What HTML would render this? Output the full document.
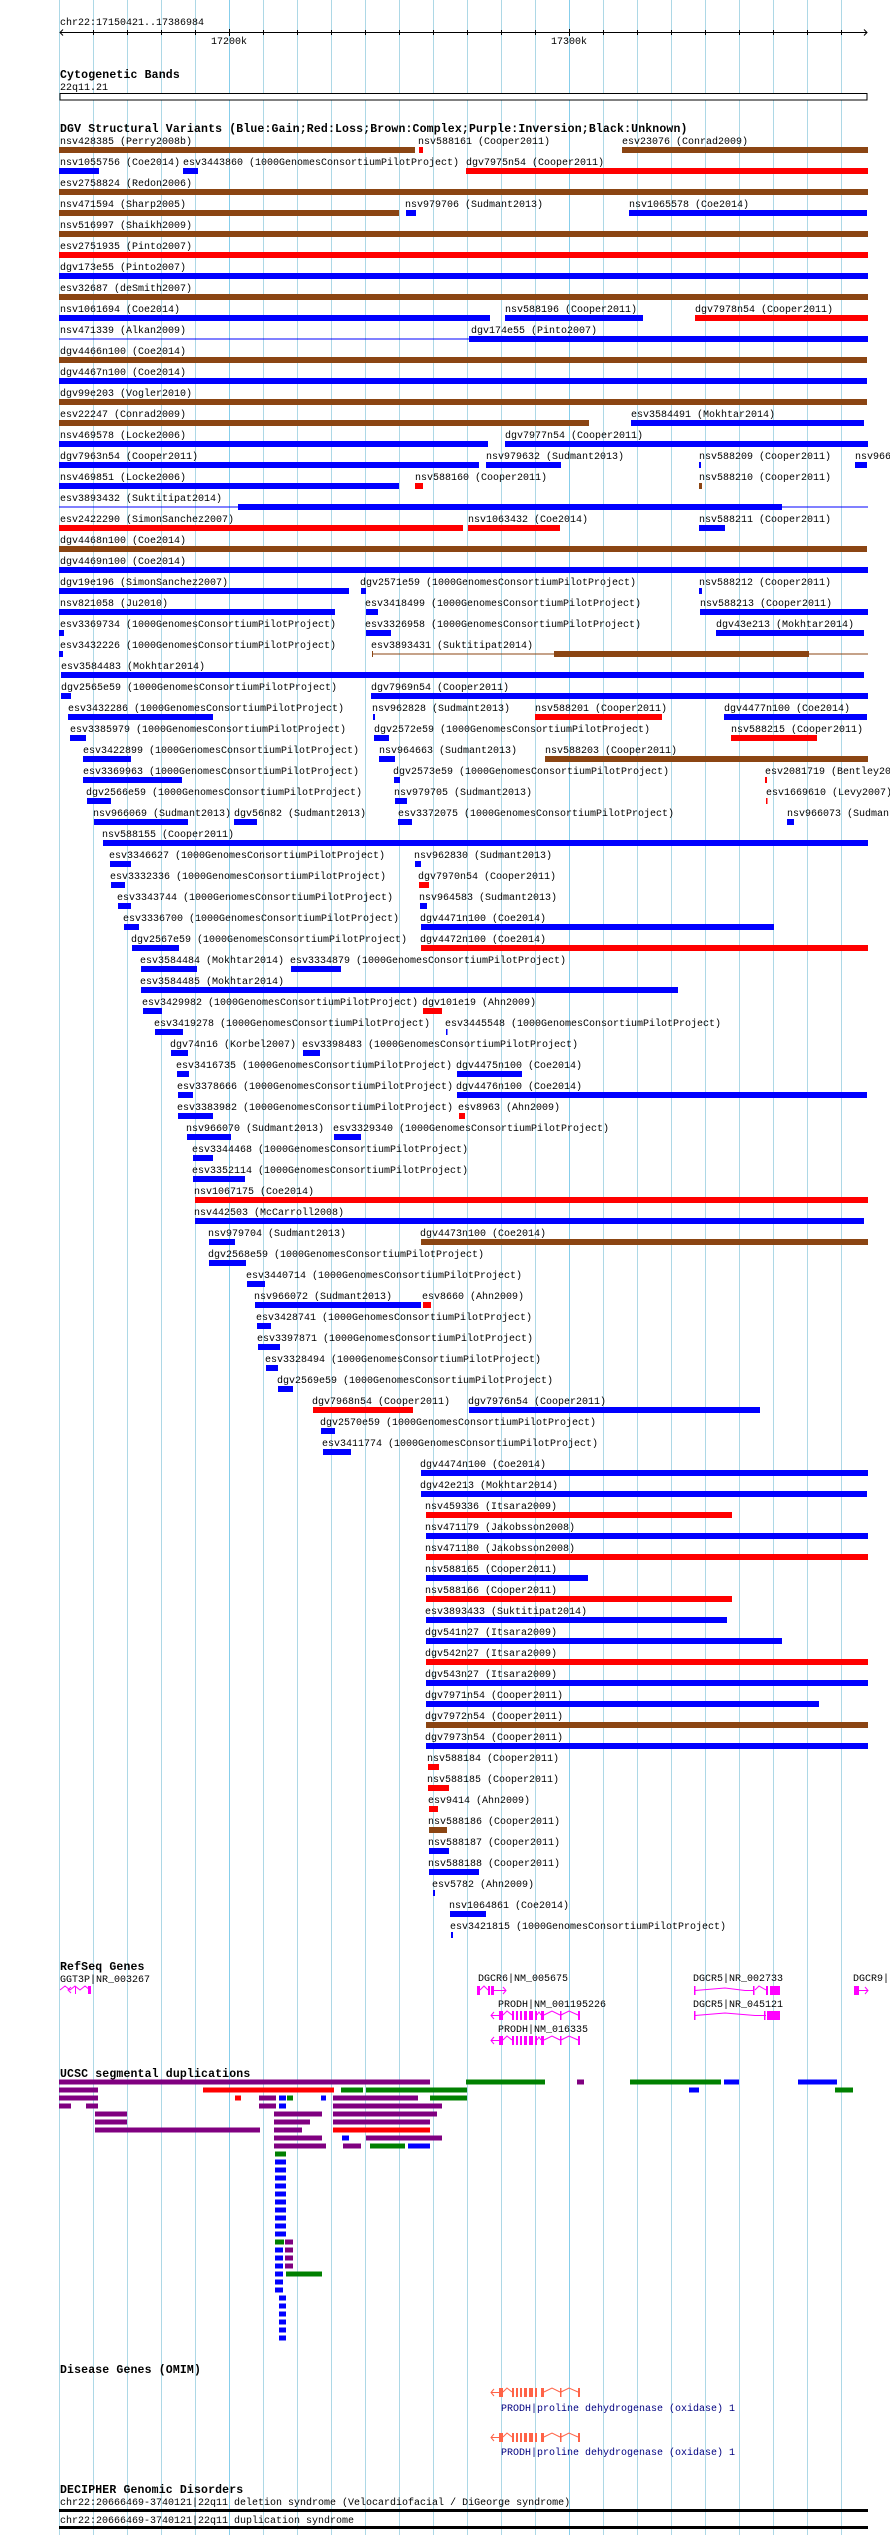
<!DOCTYPE html>
<html><head><meta charset="utf-8"><style>
html,body{margin:0;padding:0;background:#fff;width:890px;height:2535px;overflow:hidden}
svg{display:block}
text{font-family:"Liberation Mono",monospace;font-size:10px;fill:#000}
.t{font-weight:bold;font-size:11.5px;letter-spacing:0.15px}
.B{fill:#0000ff}.R{fill:#ff0000}.N{fill:#8b4513}.P{fill:#800080}.G{fill:#008000}
.om{fill:#000080}
</style></head><body>
<svg width="890" height="2535" viewBox="0 0 890 2535" xmlns="http://www.w3.org/2000/svg">
<g stroke="#add8e6" stroke-width="1">
<line x1="59.5" y1="0" x2="59.5" y2="2535"/><line x1="93.5" y1="0" x2="93.5" y2="2535"/><line x1="127.5" y1="0" x2="127.5" y2="2535"/><line x1="161.5" y1="0" x2="161.5" y2="2535"/><line x1="195.5" y1="0" x2="195.5" y2="2535"/><line x1="229.5" y1="0" x2="229.5" y2="2535" stroke="#87ceeb"/><line x1="263.5" y1="0" x2="263.5" y2="2535"/><line x1="297.5" y1="0" x2="297.5" y2="2535"/><line x1="331.5" y1="0" x2="331.5" y2="2535"/><line x1="365.5" y1="0" x2="365.5" y2="2535"/><line x1="399.5" y1="0" x2="399.5" y2="2535"/><line x1="433.5" y1="0" x2="433.5" y2="2535"/><line x1="467.5" y1="0" x2="467.5" y2="2535"/><line x1="501.5" y1="0" x2="501.5" y2="2535"/><line x1="535.5" y1="0" x2="535.5" y2="2535"/><line x1="569.5" y1="0" x2="569.5" y2="2535" stroke="#87ceeb"/><line x1="603.5" y1="0" x2="603.5" y2="2535"/><line x1="637.5" y1="0" x2="637.5" y2="2535"/><line x1="671.5" y1="0" x2="671.5" y2="2535"/><line x1="705.5" y1="0" x2="705.5" y2="2535"/><line x1="739.5" y1="0" x2="739.5" y2="2535"/><line x1="773.5" y1="0" x2="773.5" y2="2535"/><line x1="807.5" y1="0" x2="807.5" y2="2535"/><line x1="841.5" y1="0" x2="841.5" y2="2535"/>
</g>
<!-- ruler -->
<text x="60" y="25">chr22:17150421..17386984</text>
<g stroke="#000" stroke-width="1" fill="none">
<line x1="60" y1="32.5" x2="867" y2="32.5"/>
<polyline points="63,29.5 60,32.5 63,35.5"/><polyline points="864,29.5 867,32.5 864,35.5"/>
<line x1="93.5" y1="30" x2="93.5" y2="35"/><line x1="127.5" y1="30" x2="127.5" y2="35"/><line x1="161.5" y1="30" x2="161.5" y2="35"/><line x1="195.5" y1="30" x2="195.5" y2="35"/><line x1="229.5" y1="29" x2="229.5" y2="36"/><line x1="263.5" y1="30" x2="263.5" y2="35"/><line x1="297.5" y1="30" x2="297.5" y2="35"/><line x1="331.5" y1="30" x2="331.5" y2="35"/><line x1="365.5" y1="30" x2="365.5" y2="35"/><line x1="399.5" y1="30" x2="399.5" y2="35"/><line x1="433.5" y1="30" x2="433.5" y2="35"/><line x1="467.5" y1="30" x2="467.5" y2="35"/><line x1="501.5" y1="30" x2="501.5" y2="35"/><line x1="535.5" y1="30" x2="535.5" y2="35"/><line x1="569.5" y1="29" x2="569.5" y2="36"/><line x1="603.5" y1="30" x2="603.5" y2="35"/><line x1="637.5" y1="30" x2="637.5" y2="35"/><line x1="671.5" y1="30" x2="671.5" y2="35"/><line x1="705.5" y1="30" x2="705.5" y2="35"/><line x1="739.5" y1="30" x2="739.5" y2="35"/><line x1="773.5" y1="30" x2="773.5" y2="35"/><line x1="807.5" y1="30" x2="807.5" y2="35"/><line x1="841.5" y1="30" x2="841.5" y2="35"/>
</g>
<text x="211" y="44">17200k</text><text x="551" y="44">17300k</text>
<!-- cytoband -->
<text class="t" x="60" y="78">Cytogenetic Bands</text>
<text x="60" y="90">22q11.21</text>
<rect x="60" y="93.5" width="807" height="6.5" fill="#fff" stroke="#000" stroke-width="1"/>
<!-- DGV -->
<text class="t" x="60" y="132">DGV Structural Variants (Blue:Gain;Red:Loss;Brown:Complex;Purple:Inversion;Black:Unknown)</text>

<g transform="translate(0,0)"><text x="60" y="144">nsv428385 (Perry2008b)</text><rect class="N" x="59" y="147" width="356" height="6"/><text x="418" y="144">nsv588161 (Cooper2011)</text><rect class="R" x="419" y="147" width="4" height="6"/><text x="622" y="144">esv23076 (Conrad2009)</text><rect class="N" x="622" y="147" width="246" height="6"/></g>
<g transform="translate(0,21)"><text x="60" y="144">nsv1055756 (Coe2014)</text><rect class="B" x="59" y="147" width="40" height="6"/><text x="183" y="144">esv3443860 (1000GenomesConsortiumPilotProject)</text><rect class="B" x="183" y="147" width="15" height="6"/><text x="466" y="144">dgv7975n54 (Cooper2011)</text><rect class="R" x="466" y="147" width="402" height="6"/></g>
<g transform="translate(0,42)"><text x="60" y="144">esv2758824 (Redon2006)</text><rect class="N" x="59" y="147" width="809" height="6"/></g>
<g transform="translate(0,63)"><text x="60" y="144">nsv471594 (Sharp2005)</text><rect class="N" x="59" y="147" width="340" height="6"/><text x="405" y="144">nsv979706 (Sudmant2013)</text><rect class="B" x="406" y="147" width="10" height="6"/><text x="629" y="144">nsv1065578 (Coe2014)</text><rect class="B" x="629" y="147" width="238" height="6"/></g>
<g transform="translate(0,84)"><text x="60" y="144">nsv516997 (Shaikh2009)</text><rect class="N" x="59" y="147" width="809" height="6"/></g>
<g transform="translate(0,105)"><text x="60" y="144">esv2751935 (Pinto2007)</text><rect class="R" x="59" y="147" width="809" height="6"/></g>
<g transform="translate(0,126)"><text x="60" y="144">dgv173e55 (Pinto2007)</text><rect class="B" x="59" y="147" width="809" height="6"/></g>
<g transform="translate(0,147)"><text x="60" y="144">esv32687 (deSmith2007)</text><rect class="N" x="59" y="147" width="809" height="6"/></g>
<g transform="translate(0,168)"><text x="60" y="144">nsv1061694 (Coe2014)</text><rect class="B" x="59" y="147" width="431" height="6"/><text x="505" y="144">nsv588196 (Cooper2011)</text><rect class="B" x="505" y="147" width="138" height="6"/><text x="695" y="144">dgv7978n54 (Cooper2011)</text><rect class="R" x="695" y="147" width="173" height="6"/></g>
<g transform="translate(0,189)"><text x="60" y="144">nsv471339 (Alkan2009)</text><rect class="B" x="59" y="149.5" width="410" height="1"/><text x="471" y="144">dgv174e55 (Pinto2007)</text><rect class="B" x="469" y="147" width="399" height="6"/></g>
<g transform="translate(0,210)"><text x="60" y="144">dgv4466n100 (Coe2014)</text><rect class="N" x="59" y="147" width="808" height="6"/></g>
<g transform="translate(0,231)"><text x="60" y="144">dgv4467n100 (Coe2014)</text><rect class="B" x="59" y="147" width="808" height="6"/></g>
<g transform="translate(0,252)"><text x="60" y="144">dgv99e203 (Vogler2010)</text><rect class="N" x="59" y="147" width="808" height="6"/></g>
<g transform="translate(0,273)"><text x="60" y="144">esv22247 (Conrad2009)</text><rect class="N" x="59" y="147" width="530" height="6"/><text x="631" y="144">esv3584491 (Mokhtar2014)</text><rect class="B" x="631" y="147" width="233" height="6"/></g>
<g transform="translate(0,294)"><text x="60" y="144">nsv469578 (Locke2006)</text><rect class="B" x="59" y="147" width="429" height="6"/><text x="505" y="144">dgv7977n54 (Cooper2011)</text><rect class="B" x="505" y="147" width="363" height="6"/></g>
<g transform="translate(0,315)"><text x="60" y="144">dgv7963n54 (Cooper2011)</text><rect class="B" x="59" y="147" width="420" height="6"/><text x="486" y="144">nsv979632 (Sudmant2013)</text><rect class="B" x="486" y="147" width="75" height="6"/><text x="699" y="144">nsv588209 (Cooper2011)</text><rect class="B" x="699" y="147" width="2" height="6"/><text x="855" y="144">nsv966071 (Sudmant2013)</text><rect class="B" x="855" y="147" width="12" height="6"/></g>
<g transform="translate(0,336)"><text x="60" y="144">nsv469851 (Locke2006)</text><rect class="B" x="59" y="147" width="340" height="6"/><text x="415" y="144">nsv588160 (Cooper2011)</text><rect class="R" x="415" y="147" width="8" height="6"/><text x="699" y="144">nsv588210 (Cooper2011)</text><rect class="N" x="699" y="147" width="3" height="6"/></g>
<g transform="translate(0,357)"><text x="60" y="144">esv3893432 (Suktitipat2014)</text><rect class="B" x="59" y="149.5" width="809" height="1"/><rect class="B" x="238" y="147" width="544" height="6"/></g>
<g transform="translate(0,378)"><text x="60" y="144">esv2422290 (SimonSanchez2007)</text><rect class="R" x="59" y="147" width="404" height="6"/><text x="468" y="144">nsv1063432 (Coe2014)</text><rect class="R" x="468" y="147" width="92" height="6"/><text x="699" y="144">nsv588211 (Cooper2011)</text><rect class="B" x="699" y="147" width="26" height="6"/></g>
<g transform="translate(0,399)"><text x="60" y="144">dgv4468n100 (Coe2014)</text><rect class="N" x="59" y="147" width="808" height="6"/></g>
<g transform="translate(0,420)"><text x="60" y="144">dgv4469n100 (Coe2014)</text><rect class="B" x="59" y="147" width="809" height="6"/></g>
<g transform="translate(0,441)"><text x="60" y="144">dgv19e196 (SimonSanchez2007)</text><rect class="B" x="59" y="147" width="290" height="6"/><text x="360" y="144">dgv2571e59 (1000GenomesConsortiumPilotProject)</text><rect class="B" x="361" y="147" width="5" height="6"/><text x="699" y="144">nsv588212 (Cooper2011)</text><rect class="B" x="699" y="147" width="3" height="6"/></g>
<g transform="translate(0,462)"><text x="60" y="144">nsv821058 (Ju2010)</text><rect class="B" x="59" y="147" width="276" height="6"/><text x="365" y="144">esv3418499 (1000GenomesConsortiumPilotProject)</text><rect class="B" x="366" y="147" width="12" height="6"/><text x="700" y="144">nsv588213 (Cooper2011)</text><rect class="B" x="700" y="147" width="168" height="6"/></g>
<g transform="translate(0,483)"><text x="60" y="144">esv3369734 (1000GenomesConsortiumPilotProject)</text><rect class="B" x="59" y="147" width="5" height="6"/><text x="365" y="144">esv3326958 (1000GenomesConsortiumPilotProject)</text><rect class="B" x="366" y="147" width="25" height="6"/><text x="716" y="144">dgv43e213 (Mokhtar2014)</text><rect class="B" x="716" y="147" width="148" height="6"/></g>
<g transform="translate(0,504)"><text x="60" y="144">esv3432226 (1000GenomesConsortiumPilotProject)</text><rect class="B" x="59" y="147" width="4" height="6"/><text x="371" y="144">esv3893431 (Suktitipat2014)</text><rect class="N" x="372" y="149.5" width="496" height="1"/><rect class="N" x="372" y="147" width="1" height="6"/><rect class="N" x="554" y="147" width="255" height="6"/></g>
<g transform="translate(0,525)"><text x="61" y="144">esv3584483 (Mokhtar2014)</text><rect class="B" x="61" y="147" width="803" height="6"/></g>
<g transform="translate(0,546)"><text x="61" y="144">dgv2565e59 (1000GenomesConsortiumPilotProject)</text><rect class="B" x="61" y="147" width="10" height="6"/><text x="371" y="144">dgv7969n54 (Cooper2011)</text><rect class="B" x="371" y="147" width="497" height="6"/></g>
<g transform="translate(0,567)"><text x="68" y="144">esv3432286 (1000GenomesConsortiumPilotProject)</text><rect class="B" x="68" y="147" width="145" height="6"/><text x="372" y="144">nsv962828 (Sudmant2013)</text><rect class="B" x="373" y="147" width="2" height="6"/><text x="535" y="144">nsv588201 (Cooper2011)</text><rect class="R" x="535" y="147" width="127" height="6"/><text x="724" y="144">dgv4477n100 (Coe2014)</text><rect class="B" x="724" y="147" width="143" height="6"/></g>
<g transform="translate(0,588)"><text x="70" y="144">esv3385979 (1000GenomesConsortiumPilotProject)</text><rect class="B" x="70" y="147" width="16" height="6"/><text x="374" y="144">dgv2572e59 (1000GenomesConsortiumPilotProject)</text><rect class="B" x="374" y="147" width="15" height="6"/><text x="731" y="144">nsv588215 (Cooper2011)</text><rect class="R" x="731" y="147" width="86" height="6"/></g>
<g transform="translate(0,609)"><text x="83" y="144">esv3422899 (1000GenomesConsortiumPilotProject)</text><rect class="B" x="83" y="147" width="48" height="6"/><text x="379" y="144">nsv964663 (Sudmant2013)</text><rect class="B" x="379" y="147" width="16" height="6"/><text x="545" y="144">nsv588203 (Cooper2011)</text><rect class="N" x="545" y="147" width="323" height="6"/></g>
<g transform="translate(0,630)"><text x="83" y="144">esv3369963 (1000GenomesConsortiumPilotProject)</text><rect class="B" x="83" y="147" width="99" height="6"/><text x="393" y="144">dgv2573e59 (1000GenomesConsortiumPilotProject)</text><rect class="B" x="394" y="147" width="6" height="6"/><text x="765" y="144">esv2081719 (Bentley2008)</text><rect class="R" x="765" y="147" width="2" height="6"/></g>
<g transform="translate(0,651)"><text x="86" y="144">dgv2566e59 (1000GenomesConsortiumPilotProject)</text><rect class="B" x="87" y="147" width="24" height="6"/><text x="394" y="144">nsv979705 (Sudmant2013)</text><rect class="B" x="395" y="147" width="12" height="6"/><text x="766" y="144">esv1669610 (Levy2007)</text><rect class="R" x="766" y="147" width="1.5" height="6"/></g>
<g transform="translate(0,672)"><text x="93" y="144">nsv966069 (Sudmant2013)</text><rect class="B" x="94" y="147" width="94" height="6"/><text x="234" y="144">dgv56n82 (Sudmant2013)</text><rect class="B" x="234" y="147" width="23" height="6"/><text x="398" y="144">esv3372075 (1000GenomesConsortiumPilotProject)</text><rect class="B" x="398" y="147" width="14" height="6"/><text x="787" y="144">nsv966073 (Sudmant2013)</text><rect class="B" x="787" y="147" width="7" height="6"/></g>
<g transform="translate(0,693)"><text x="102" y="144">nsv588155 (Cooper2011)</text><rect class="B" x="103" y="147" width="765" height="6"/></g>
<g transform="translate(0,714)"><text x="109" y="144">esv3346627 (1000GenomesConsortiumPilotProject)</text><rect class="B" x="110" y="147" width="21" height="6"/><text x="414" y="144">nsv962830 (Sudmant2013)</text><rect class="B" x="415" y="147" width="6" height="6"/></g>
<g transform="translate(0,735)"><text x="110" y="144">esv3332336 (1000GenomesConsortiumPilotProject)</text><rect class="B" x="111" y="147" width="14" height="6"/><text x="418" y="144">dgv7970n54 (Cooper2011)</text><rect class="R" x="419" y="147" width="10" height="6"/></g>
<g transform="translate(0,756)"><text x="117" y="144">esv3343744 (1000GenomesConsortiumPilotProject)</text><rect class="B" x="118" y="147" width="13" height="6"/><text x="419" y="144">nsv964583 (Sudmant2013)</text><rect class="B" x="420" y="147" width="7" height="6"/></g>
<g transform="translate(0,777)"><text x="123" y="144">esv3336700 (1000GenomesConsortiumPilotProject)</text><rect class="B" x="124" y="147" width="15" height="6"/><text x="420" y="144">dgv4471n100 (Coe2014)</text><rect class="B" x="421" y="147" width="353" height="6"/></g>
<g transform="translate(0,798)"><text x="131" y="144">dgv2567e59 (1000GenomesConsortiumPilotProject)</text><rect class="B" x="132" y="147" width="47" height="6"/><text x="420" y="144">dgv4472n100 (Coe2014)</text><rect class="R" x="421" y="147" width="447" height="6"/></g>
<g transform="translate(0,819)"><text x="140" y="144">esv3584484 (Mokhtar2014)</text><rect class="B" x="141" y="147" width="56" height="6"/><text x="290" y="144">esv3334879 (1000GenomesConsortiumPilotProject)</text><rect class="B" x="291" y="147" width="50" height="6"/></g>
<g transform="translate(0,840)"><text x="140" y="144">esv3584485 (Mokhtar2014)</text><rect class="B" x="141" y="147" width="537" height="6"/></g>
<g transform="translate(0,861)"><text x="142" y="144">esv3429982 (1000GenomesConsortiumPilotProject)</text><rect class="B" x="143" y="147" width="19" height="6"/><text x="422" y="144">dgv101e19 (Ahn2009)</text><rect class="R" x="423" y="147" width="19" height="6"/></g>
<g transform="translate(0,882)"><text x="154" y="144">esv3419278 (1000GenomesConsortiumPilotProject)</text><rect class="B" x="155" y="147" width="28" height="6"/><text x="445" y="144">esv3445548 (1000GenomesConsortiumPilotProject)</text><rect class="B" x="446" y="147" width="1.5" height="6"/></g>
<g transform="translate(0,903)"><text x="170" y="144">dgv74n16 (Korbel2007)</text><rect class="B" x="171" y="147" width="17" height="6"/><text x="302" y="144">esv3398483 (1000GenomesConsortiumPilotProject)</text><rect class="B" x="303" y="147" width="17" height="6"/></g>
<g transform="translate(0,924)"><text x="176" y="144">esv3416735 (1000GenomesConsortiumPilotProject)</text><rect class="B" x="177" y="147" width="12" height="6"/><text x="456" y="144">dgv4475n100 (Coe2014)</text><rect class="B" x="457" y="147" width="65" height="6"/></g>
<g transform="translate(0,945)"><text x="177" y="144">esv3378666 (1000GenomesConsortiumPilotProject)</text><rect class="B" x="178" y="147" width="15" height="6"/><text x="456" y="144">dgv4476n100 (Coe2014)</text><rect class="B" x="457" y="147" width="410" height="6"/></g>
<g transform="translate(0,966)"><text x="177" y="144">esv3383982 (1000GenomesConsortiumPilotProject)</text><rect class="B" x="178" y="147" width="35" height="6"/><text x="458" y="144">esv8963 (Ahn2009)</text><rect class="R" x="459" y="147" width="6" height="6"/></g>
<g transform="translate(0,987)"><text x="186" y="144">nsv966070 (Sudmant2013)</text><rect class="B" x="187" y="147" width="44" height="6"/><text x="333" y="144">esv3329340 (1000GenomesConsortiumPilotProject)</text><rect class="B" x="334" y="147" width="27" height="6"/></g>
<g transform="translate(0,1008)"><text x="192" y="144">esv3344468 (1000GenomesConsortiumPilotProject)</text><rect class="B" x="193" y="147" width="20" height="6"/></g>
<g transform="translate(0,1029)"><text x="192" y="144">esv3352114 (1000GenomesConsortiumPilotProject)</text><rect class="B" x="193" y="147" width="52" height="6"/></g>
<g transform="translate(0,1050)"><text x="194" y="144">nsv1067175 (Coe2014)</text><rect class="R" x="195" y="147" width="673" height="6"/></g>
<g transform="translate(0,1071)"><text x="194" y="144">nsv442503 (McCarroll2008)</text><rect class="B" x="195" y="147" width="669" height="6"/></g>
<g transform="translate(0,1092)"><text x="208" y="144">nsv979704 (Sudmant2013)</text><rect class="B" x="209" y="147" width="26" height="6"/><text x="420" y="144">dgv4473n100 (Coe2014)</text><rect class="N" x="421" y="147" width="447" height="6"/></g>
<g transform="translate(0,1113)"><text x="208" y="144">dgv2568e59 (1000GenomesConsortiumPilotProject)</text><rect class="B" x="209" y="147" width="37" height="6"/></g>
<g transform="translate(0,1134)"><text x="246" y="144">esv3440714 (1000GenomesConsortiumPilotProject)</text><rect class="B" x="247" y="147" width="18" height="6"/></g>
<g transform="translate(0,1155)"><text x="254" y="144">nsv966072 (Sudmant2013)</text><rect class="B" x="255" y="147" width="166" height="6"/><text x="422" y="144">esv8660 (Ahn2009)</text><rect class="R" x="423" y="147" width="8" height="6"/></g>
<g transform="translate(0,1176)"><text x="256" y="144">esv3428741 (1000GenomesConsortiumPilotProject)</text><rect class="B" x="257" y="147" width="14" height="6"/></g>
<g transform="translate(0,1197)"><text x="257" y="144">esv3397871 (1000GenomesConsortiumPilotProject)</text><rect class="B" x="258" y="147" width="22" height="6"/></g>
<g transform="translate(0,1218)"><text x="265" y="144">esv3328494 (1000GenomesConsortiumPilotProject)</text><rect class="B" x="266" y="147" width="12" height="6"/></g>
<g transform="translate(0,1239)"><text x="277" y="144">dgv2569e59 (1000GenomesConsortiumPilotProject)</text><rect class="B" x="278" y="147" width="15" height="6"/></g>
<g transform="translate(0,1260)"><text x="312" y="144">dgv7968n54 (Cooper2011)</text><rect class="R" x="313" y="147" width="100" height="6"/><text x="468" y="144">dgv7976n54 (Cooper2011)</text><rect class="B" x="469" y="147" width="291" height="6"/></g>
<g transform="translate(0,1281)"><text x="320" y="144">dgv2570e59 (1000GenomesConsortiumPilotProject)</text><rect class="B" x="321" y="147" width="14" height="6"/></g>
<g transform="translate(0,1302)"><text x="322" y="144">esv3411774 (1000GenomesConsortiumPilotProject)</text><rect class="B" x="323" y="147" width="28" height="6"/></g>
<g transform="translate(0,1323)"><text x="420" y="144">dgv4474n100 (Coe2014)</text><rect class="B" x="421" y="147" width="447" height="6"/></g>
<g transform="translate(0,1344)"><text x="420" y="144">dgv42e213 (Mokhtar2014)</text><rect class="B" x="421" y="147" width="446" height="6"/></g>
<g transform="translate(0,1365)"><text x="425" y="144">nsv459336 (Itsara2009)</text><rect class="R" x="426" y="147" width="306" height="6"/></g>
<g transform="translate(0,1386)"><text x="425" y="144">nsv471179 (Jakobsson2008)</text><rect class="B" x="426" y="147" width="442" height="6"/></g>
<g transform="translate(0,1407)"><text x="425" y="144">nsv471180 (Jakobsson2008)</text><rect class="R" x="426" y="147" width="442" height="6"/></g>
<g transform="translate(0,1428)"><text x="425" y="144">nsv588165 (Cooper2011)</text><rect class="B" x="426" y="147" width="162" height="6"/></g>
<g transform="translate(0,1449)"><text x="425" y="144">nsv588166 (Cooper2011)</text><rect class="R" x="426" y="147" width="306" height="6"/></g>
<g transform="translate(0,1470)"><text x="425" y="144">esv3893433 (Suktitipat2014)</text><rect class="B" x="426" y="147" width="301" height="6"/></g>
<g transform="translate(0,1491)"><text x="425" y="144">dgv541n27 (Itsara2009)</text><rect class="B" x="426" y="147" width="356" height="6"/></g>
<g transform="translate(0,1512)"><text x="425" y="144">dgv542n27 (Itsara2009)</text><rect class="R" x="426" y="147" width="442" height="6"/></g>
<g transform="translate(0,1533)"><text x="425" y="144">dgv543n27 (Itsara2009)</text><rect class="B" x="426" y="147" width="442" height="6"/></g>
<g transform="translate(0,1554)"><text x="425" y="144">dgv7971n54 (Cooper2011)</text><rect class="B" x="426" y="147" width="393" height="6"/></g>
<g transform="translate(0,1575)"><text x="425" y="144">dgv7972n54 (Cooper2011)</text><rect class="N" x="426" y="147" width="442" height="6"/></g>
<g transform="translate(0,1596)"><text x="425" y="144">dgv7973n54 (Cooper2011)</text><rect class="B" x="426" y="147" width="442" height="6"/></g>
<g transform="translate(0,1617)"><text x="427" y="144">nsv588184 (Cooper2011)</text><rect class="R" x="428" y="147" width="11" height="6"/></g>
<g transform="translate(0,1638)"><text x="427" y="144">nsv588185 (Cooper2011)</text><rect class="R" x="428" y="147" width="21" height="6"/></g>
<g transform="translate(0,1659)"><text x="428" y="144">esv9414 (Ahn2009)</text><rect class="R" x="429" y="147" width="9" height="6"/></g>
<g transform="translate(0,1680)"><text x="428" y="144">nsv588186 (Cooper2011)</text><rect class="N" x="429" y="147" width="18" height="6"/></g>
<g transform="translate(0,1701)"><text x="428" y="144">nsv588187 (Cooper2011)</text><rect class="B" x="429" y="147" width="20" height="6"/></g>
<g transform="translate(0,1722)"><text x="428" y="144">nsv588188 (Cooper2011)</text><rect class="B" x="429" y="147" width="50" height="6"/></g>
<g transform="translate(0,1743)"><text x="432" y="144">esv5782 (Ahn2009)</text><rect class="B" x="433" y="147" width="2" height="6"/></g>
<g transform="translate(0,1764)"><text x="449" y="144">nsv1064861 (Coe2014)</text><rect class="B" x="450" y="147" width="36" height="6"/></g>
<g transform="translate(0,1785)"><text x="450" y="144">esv3421815 (1000GenomesConsortiumPilotProject)</text><rect class="B" x="451" y="147" width="2" height="6"/></g>

<!-- RefSeq -->
<text class="t" x="60" y="1970">RefSeq Genes</text>
<text x="60" y="1982">GGT3P|NR_003267</text>
<g stroke="#ff00ff" fill="none" stroke-width="1">
<polyline points="60,1990 65,1986 70,1990 75,1986 80,1990 85,1986 90,1990"/>
<polyline points="71,1987 68,1990 71,1993"/>
</g>
<rect x="88" y="1986" width="3" height="8" fill="#ff00ff"/><rect x="75" y="1987" width="1" height="7" fill="#ff00ff"/>
<text x="478" y="1981">DGCR6|NM_005675</text>
<g fill="#ff00ff"><rect x="477" y="1986" width="3" height="9"/><rect x="488" y="1986" width="2" height="9"/><rect x="491" y="1986" width="3" height="9"/></g>
<g stroke="#ff00ff" fill="none"><polyline points="480,1990 484,1986 488,1990"/><line x1="494" y1="1990.5" x2="506" y2="1990.5"/><polyline points="503,1987 506,1990.5 503,1994"/></g>
<text x="693" y="1981">DGCR5|NR_002733</text>
<g fill="#ff00ff"><rect x="694" y="1986" width="1.5" height="9"/><rect x="753" y="1986" width="1.5" height="9"/><rect x="766" y="1986" width="2" height="9"/><rect x="770" y="1986" width="10" height="9"/></g>
<g stroke="#ff00ff" fill="none"><polyline points="695,1990.5 725,1988 745,1990.5 754,1990.5"/><polyline points="755,1990 759,1986 766,1990"/></g>
<text x="853" y="1981">DGCR9|</text>
<rect x="854" y="1986" width="5" height="9" fill="#ff00ff"/>
<g stroke="#ff00ff" fill="none"><line x1="859" y1="1990.5" x2="868" y2="1990.5"/><polyline points="865,1987 868,1990.5 865,1994"/></g>

<text x="498" y="2007">PRODH|NM_001195226</text>
<text x="693" y="2007">DGCR5|NR_045121</text>
<g fill="#ff00ff"><rect x="694" y="2011" width="1.5" height="9"/><rect x="764" y="2011" width="1.5" height="9"/><rect x="767" y="2011" width="13" height="9"/></g>
<g stroke="#ff00ff" fill="none"><polyline points="695,2015.5 725,2013 755,2015.5 766,2015.5"/></g>
<text x="498" y="2032">PRODH|NM_016335</text>

<g id="prodh" fill="#ff00ff">
<rect x="499" y="2011" width="4" height="9"/><rect x="512" y="2011" width="2" height="9"/><rect x="516" y="2011" width="2" height="9"/><rect x="520" y="2011" width="2" height="9"/><rect x="524" y="2011" width="3" height="9"/><rect x="529" y="2011" width="4" height="9"/><rect x="535" y="2011" width="2" height="9"/><rect x="541" y="2011" width="3" height="9"/><rect x="560" y="2011" width="1.5" height="9"/><rect x="578" y="2011" width="2" height="9"/>
</g>
<g stroke="#ff00ff" fill="none">
<polyline points="491,2015.5 499,2015.5"/><polyline points="494,2012 491,2015.5 494,2019"/>
<polyline points="503,2015 507,2011 512,2015"/><polyline points="544,2015 552,2011 560,2015"/><polyline points="561,2015 569,2011 578,2015"/><polyline points="537,2015 539,2012 541,2015"/>
</g>
<g fill="#ff00ff">
<rect x="499" y="2036" width="4" height="9"/><rect x="512" y="2036" width="2" height="9"/><rect x="516" y="2036" width="2" height="9"/><rect x="520" y="2036" width="2" height="9"/><rect x="524" y="2036" width="3" height="9"/><rect x="529" y="2036" width="4" height="9"/><rect x="535" y="2036" width="2" height="9"/><rect x="541" y="2036" width="3" height="9"/><rect x="560" y="2036" width="1.5" height="9"/><rect x="578" y="2036" width="2" height="9"/>
</g>
<g stroke="#ff00ff" fill="none">
<polyline points="491,2040.5 499,2040.5"/><polyline points="494,2037 491,2040.5 494,2044"/>
<polyline points="503,2040 507,2036 512,2040"/><polyline points="544,2040 552,2036 560,2040"/><polyline points="561,2040 569,2036 578,2040"/><polyline points="537,2040 539,2037 541,2040"/>
</g>

<!-- UCSC seg dups -->
<text class="t" x="60" y="2077">UCSC segmental duplications</text>
<g>
<rect class="P" x="59" y="2079.5" width="371" height="5"/><rect class="G" x="466" y="2079.5" width="79" height="5"/><rect class="P" x="577" y="2079.5" width="7" height="5"/><rect class="G" x="630" y="2079.5" width="91" height="5"/><rect class="B" x="724" y="2079.5" width="15" height="5"/><rect class="B" x="798" y="2079.5" width="39" height="5"/>
<rect class="P" x="59" y="2087.5" width="39" height="5"/><rect class="R" x="203" y="2087.5" width="131" height="5"/><rect class="G" x="341" y="2087.5" width="22" height="5"/><rect class="G" x="366" y="2087.5" width="101" height="5"/><rect class="B" x="689" y="2087.5" width="10" height="5"/><rect class="G" x="835" y="2087.5" width="18" height="5"/>
<rect class="P" x="59" y="2095.5" width="39" height="5"/><rect class="R" x="235" y="2095.5" width="6" height="5"/><rect class="P" x="259" y="2095.5" width="17" height="5"/><rect class="B" x="279" y="2095.5" width="7" height="5"/><rect class="G" x="287" y="2095.5" width="6" height="5"/><rect class="B" x="321" y="2095.5" width="5" height="5"/><rect class="P" x="333" y="2095.5" width="85" height="5"/><rect class="G" x="430" y="2095.5" width="37" height="5"/>
<rect class="P" x="59" y="2103.5" width="12" height="5"/><rect class="P" x="86" y="2103.5" width="12" height="5"/><rect class="P" x="259" y="2103.5" width="17" height="5"/><rect class="B" x="279" y="2103.5" width="7" height="5"/><rect class="P" x="333" y="2103.5" width="109" height="5"/>
<rect class="P" x="95" y="2111.5" width="32" height="5"/><rect class="P" x="274" y="2111.5" width="48" height="5"/><rect class="P" x="333" y="2111.5" width="104" height="5"/>
<rect class="P" x="95" y="2119.5" width="32" height="5"/><rect class="P" x="274" y="2119.5" width="36" height="5"/><rect class="P" x="333" y="2119.5" width="97" height="5"/>
<rect class="P" x="95" y="2127.5" width="165" height="5"/><rect class="P" x="274" y="2127.5" width="28" height="5"/><rect class="R" x="333" y="2127.5" width="97" height="5"/>
<rect class="P" x="274" y="2135.5" width="48" height="5"/><rect class="B" x="342" y="2135.5" width="7" height="5"/><rect class="P" x="366" y="2135.5" width="76" height="5"/>
<rect class="P" x="274" y="2143.5" width="52" height="5"/><rect class="P" x="343" y="2143.5" width="18" height="5"/><rect class="G" x="370" y="2143.5" width="35" height="5"/><rect class="B" x="408" y="2143.5" width="22" height="5"/>
<rect class="G" x="275" y="2151.5" width="11" height="5"/>
<rect class="B" x="275" y="2159.5" width="11" height="5"/><rect class="B" x="275" y="2167.5" width="11" height="5"/><rect class="B" x="275" y="2175.5" width="11" height="5"/><rect class="B" x="275" y="2183.5" width="11" height="5"/><rect class="B" x="275" y="2191.5" width="11" height="5"/><rect class="B" x="275" y="2199.5" width="11" height="5"/><rect class="B" x="275" y="2207.5" width="11" height="5"/><rect class="B" x="275" y="2215.5" width="11" height="5"/><rect class="B" x="275" y="2223.5" width="11" height="5"/><rect class="B" x="275" y="2231.5" width="11" height="5"/>
<rect class="G" x="275" y="2239.5" width="9" height="5"/><rect class="P" x="285" y="2239.5" width="8" height="5"/>
<rect class="B" x="275" y="2247.5" width="8" height="5"/><rect class="P" x="285" y="2247.5" width="8" height="5"/>
<rect class="B" x="275" y="2255.5" width="8" height="5"/><rect class="P" x="285" y="2255.5" width="8" height="5"/>
<rect class="B" x="275" y="2263.5" width="8" height="5"/><rect class="P" x="285" y="2263.5" width="8" height="5"/>
<rect class="B" x="275" y="2271.5" width="8" height="5"/><rect class="G" x="286" y="2271.5" width="36" height="5"/>
<rect class="B" x="275" y="2279.5" width="8" height="5"/><rect class="B" x="275" y="2287.5" width="8" height="5"/>
<rect class="B" x="279" y="2295.5" width="7" height="5"/><rect class="B" x="279" y="2303.5" width="7" height="5"/><rect class="B" x="279" y="2311.5" width="7" height="5"/><rect class="B" x="279" y="2319.5" width="7" height="5"/><rect class="B" x="279" y="2327.5" width="7" height="5"/><rect class="B" x="279" y="2335.5" width="7" height="5"/>
</g>

<!-- OMIM -->
<text class="t" x="60" y="2373">Disease Genes (OMIM)</text>
<g fill="#ff6347">
<rect x="499" y="2388" width="4" height="9"/><rect x="512" y="2388" width="2" height="9"/><rect x="516" y="2388" width="2" height="9"/><rect x="520" y="2388" width="2" height="9"/><rect x="524" y="2388" width="3" height="9"/><rect x="529" y="2388" width="4" height="9"/><rect x="535" y="2388" width="2" height="9"/><rect x="541" y="2388" width="3" height="9"/><rect x="560" y="2388" width="1.5" height="9"/><rect x="578" y="2388" width="2" height="9"/>
<rect x="499" y="2433" width="4" height="9"/><rect x="512" y="2433" width="2" height="9"/><rect x="516" y="2433" width="2" height="9"/><rect x="520" y="2433" width="2" height="9"/><rect x="524" y="2433" width="3" height="9"/><rect x="529" y="2433" width="4" height="9"/><rect x="535" y="2433" width="2" height="9"/><rect x="541" y="2433" width="3" height="9"/><rect x="560" y="2433" width="1.5" height="9"/><rect x="578" y="2433" width="2" height="9"/>
</g>
<g stroke="#ff6347" fill="none">
<polyline points="491,2392.5 499,2392.5"/><polyline points="494,2389 491,2392.5 494,2396"/>
<polyline points="503,2392 507,2388 512,2392"/><polyline points="544,2392 552,2388 560,2392"/><polyline points="561,2392 569,2388 578,2392"/>
<polyline points="491,2437.5 499,2437.5"/><polyline points="494,2434 491,2437.5 494,2441"/>
<polyline points="503,2437 507,2433 512,2437"/><polyline points="544,2437 552,2433 560,2437"/><polyline points="561,2437 569,2433 578,2437"/>
</g>
<text class="om" x="501" y="2411">PRODH|proline dehydrogenase (oxidase) 1</text>
<text class="om" x="501" y="2455">PRODH|proline dehydrogenase (oxidase) 1</text>

<!-- DECIPHER -->
<text class="t" x="60" y="2493">DECIPHER Genomic Disorders</text>
<text x="60" y="2505">chr22:20666469-3740121|22q11 deletion syndrome (Velocardiofacial / DiGeorge syndrome)</text>
<rect x="59" y="2509" width="809" height="3" fill="#000"/>
<text x="60" y="2523">chr22:20666469-3740121|22q11 duplication syndrome</text>
<rect x="59" y="2526" width="809" height="3" fill="#000"/>
</svg>
</body></html>
